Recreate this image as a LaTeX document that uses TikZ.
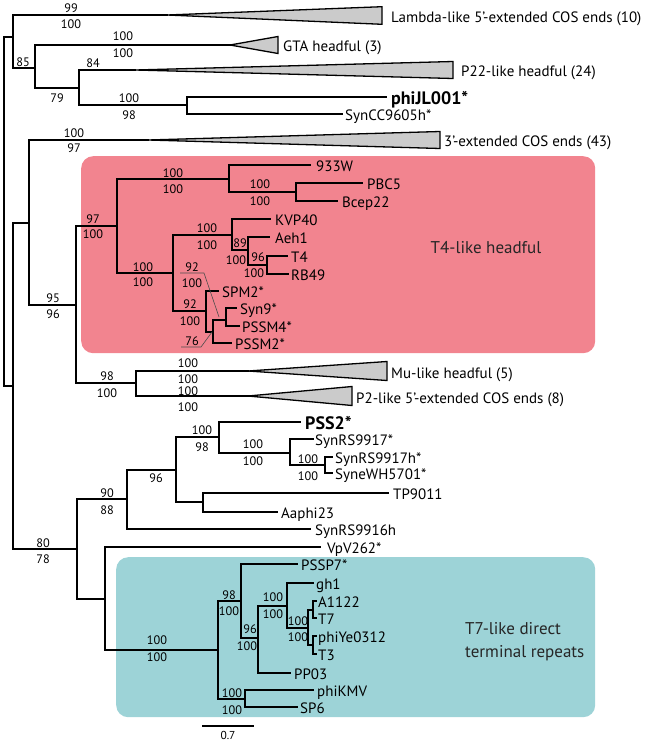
\documentclass[tikz,border=0pt]{standalone}
\usepackage{fontspec}
\setmainfont{PT Sans}
\definecolor{pinkbox}{HTML}{F2848F}
\definecolor{tealbox}{HTML}{9DD3D7}
\definecolor{trigray}{HTML}{CBCBCB}
\begin{document}
\begin{tikzpicture}[x=1pt,y=-1pt,
 br/.style={line width=1.9pt, line join=miter, line cap=rect},
 tri/.style={draw, line width=1.3pt, fill=trigray, line join=miter},
 leafl/.style={anchor=base west, inner sep=0pt, font=\fontsize{15}{16}\selectfont, yshift=-1pt},
 boldl/.style={anchor=base west, inner sep=0pt, font=\fontsize{18}{18}\selectfont\bfseries, yshift=-1.5pt},
 bsn/.style={inner sep=0pt, font=\fontsize{12.3}{12}\selectfont},
 boxl/.style={inner sep=0pt, font=\fontsize{17}{23}\selectfont, text=black!85},
 lead/.style={line width=0.6pt, draw=black!70},
 cbox/.style={rounded corners=12pt, draw=none}
]
\useasboundingbox (0,0) rectangle (650,744);

% clade boxes
\node[cbox, fill=pinkbox, minimum width=514pt, minimum height=197pt, anchor=north west] (t4box) at (81,156) {};
\node[cbox, fill=tealbox, minimum width=479pt, minimum height=160pt, anchor=north west] (t7box) at (116,557) {};
\node[boxl, anchor=center] (t4txt) at (486,248) {T4-like headful};
\node[boxl, anchor=west, align=left] (t7txt) at (465,642) {T7-like direct\\terminal repeats};

% internal nodes
\coordinate (root) at (4,211);
\coordinate (nTop) at (12.7,36.7);
\coordinate (n85) at (35,68);
\coordinate (n79) at (79,88);
\coordinate (nJL) at (187,105);
\coordinate (nB) at (12.7,386);
\coordinate (n3p) at (29,222.7);
\coordinate (n95) at (76,305);
\coordinate (n97) at (117,226);
\coordinate (nA) at (229,179);
\coordinate (nPBC) at (296,192);
\coordinate (nC) at (173,273);
\coordinate (nK) at (232,235);
\coordinate (nAeh) at (248,250);
\coordinate (nT4) at (267,265);
\coordinate (nCy) at (206,311);
\coordinate (nPS) at (213,332);
\coordinate (nSyn) at (226,320);
\coordinate (n98) at (136,383);
\coordinate (n80) at (77,549);
\coordinate (n90) at (127,499);
\coordinate (n96) at (176,470);
\coordinate (nP) at (219,437);
\coordinate (nRS) at (290,453);
\coordinate (nWH) at (325,465);
\coordinate (nTP) at (203,502);
\coordinate (nV) at (105,599);
\coordinate (nT7) at (218,650);
\coordinate (n98b) at (241,601);
\coordinate (n96b) at (258,638);
\coordinate (n100a) at (287,606);
\coordinate (n100b) at (308,628);
\coordinate (nA11) at (313,610);
\coordinate (nYe) at (313,645);
\coordinate (nKMV) at (245,699);

% triangle tips
\coordinate (lamT) at (167,15);
\coordinate (gtaT) at (230,45);
\coordinate (p22T) at (135,70);
\coordinate (cos3T) at (148,140);
\coordinate (muT) at (248,371);
\coordinate (p2T) at (248,396);

% leaf tips
\coordinate (phiJL) at (386,97);
\coordinate (syncc) at (342,114);
\coordinate (w933) at (310,165);
\coordinate (pbc5) at (362,183);
\coordinate (bcep) at (337,201);
\coordinate (kvp) at (270,219);
\coordinate (aeh) at (269,237);
\coordinate (t4) at (287,256);
\coordinate (rb49) at (288,274);
\coordinate (spm2) at (218,291);
\coordinate (syn9) at (236,308);
\coordinate (pssm4) at (239,326);
\coordinate (pssm2) at (231,343);
\coordinate (pss2) at (300,422);
\coordinate (rs9917) at (313,439);
\coordinate (rs9917h) at (332,457);
\coordinate (wh5701) at (332,473);
\coordinate (tp9011) at (388,493);
\coordinate (aaphi) at (277,512);
\coordinate (rs9916) at (310,529);
\coordinate (vpv) at (320,547);
\coordinate (pssp7) at (297,564);
\coordinate (gh1) at (313,583);
\coordinate (a1122) at (316,601);
\coordinate (t7) at (316,618);
\coordinate (phiye) at (316,636);
\coordinate (t3) at (316,654);
\coordinate (pp03) at (290,673);
\coordinate (kmv) at (313,690);
\coordinate (sp6) at (297,707);

% triangles
\draw[tri] (lamT) -- (382,6.7) -- (382,24.3) -- cycle;
\draw[tri] (gtaT) -- (278,36.5) -- (278,53.5) -- cycle;
\draw[tri] (p22T) -- (453,61.5) -- (453,78.5) -- cycle;
\draw[tri] (cos3T) -- (440,131.5) -- (440,148.5) -- cycle;
\draw[tri] (muT) -- (387,361.5) -- (387,380.5) -- cycle;
\draw[tri] (p2T) -- (352,386.5) -- (352,405.5) -- cycle;

% branches
\draw[br] (root) |- (nTop); \draw[br] (root) |- (nB);
\draw[br] (nTop) |- (lamT); \draw[br] (nTop) |- (n85);
\draw[br] (n85) |- (gtaT); \draw[br] (n85) |- (n79);
\draw[br] (n79) |- (p22T); \draw[br] (n79) |- (nJL);
\draw[br] (nJL) |- (phiJL); \draw[br] (nJL) |- (syncc);
\draw[br] (nB) |- (n3p); \draw[br] (nB) |- (n80);
\draw[br] (n3p) |- (cos3T); \draw[br] (n3p) |- (n95);
\draw[br] (n95) |- (n97); \draw[br] (n95) |- (n98);
\draw[br] (n97) |- (nA); \draw[br] (n97) |- (nC);
\draw[br] (nA) |- (w933); \draw[br] (nA) |- (nPBC);
\draw[br] (nPBC) |- (pbc5); \draw[br] (nPBC) |- (bcep);
\draw[br] (nC) |- (nK); \draw[br] (nC) |- (nCy);
\draw[br] (nK) |- (kvp); \draw[br] (nK) |- (nAeh);
\draw[br] (nAeh) |- (aeh); \draw[br] (nAeh) |- (nT4);
\draw[br] (nT4) |- (t4); \draw[br] (nT4) |- (rb49);
\draw[br] (nCy) |- (spm2); \draw[br] (nCy) |- (nPS);
\draw[br] (nPS) |- (nSyn); \draw[br] (nPS) |- (pssm2);
\draw[br] (nSyn) |- (syn9); \draw[br] (nSyn) |- (pssm4);
\draw[br] (n98) |- (muT); \draw[br] (n98) |- (p2T);
\draw[br] (n80) |- (n90); \draw[br] (n80) |- (nV);
\draw[br] (n90) |- (n96); \draw[br] (n90) |- (rs9916);
\draw[br] (n96) |- (nP); \draw[br] (n96) |- (nTP);
\draw[br] (nP) |- (pss2); \draw[br] (nP) |- (nRS);
\draw[br] (nRS) |- (rs9917); \draw[br] (nRS) |- (nWH);
\draw[br] (nWH) |- (rs9917h); \draw[br] (nWH) |- (wh5701);
\draw[br] (nTP) |- (tp9011); \draw[br] (nTP) |- (aaphi);
\draw[br] (nV) |- (vpv); \draw[br] (nV) |- (nT7);
\draw[br] (nT7) |- (n98b); \draw[br] (nT7) |- (nKMV);
\draw[br] (n98b) |- (pssp7); \draw[br] (n98b) |- (n96b);
\draw[br] (n96b) |- (n100a); \draw[br] (n96b) |- (pp03);
\draw[br] (n100a) |- (gh1); \draw[br] (n100a) |- (n100b);
\draw[br] (n100b) |- (nA11); \draw[br] (n100b) |- (nYe);
\draw[br] (nA11) |- (a1122); \draw[br] (nA11) |- (t7);
\draw[br] (nYe) |- (phiye); \draw[br] (nYe) |- (t3);
\draw[br] (nKMV) |- (kmv); \draw[br] (nKMV) |- (sp6);

% clade labels
\node[leafl] (lamL) at (391,21) {Lambda-like 5’-extended COS ends (10)};
\node[leafl] (gtaL) at (283,50) {GTA headful (3)};
\node[leafl] (p22L) at (461,75) {P22-like headful (24)};
\node[leafl] (cos3L) at (444,145) {3’-extended COS ends (43)};
\node[leafl] (muL) at (391,377) {Mu-like headful (5)};
\node[leafl] (p2L) at (356,402) {P2-like 5’-extended COS ends (8)};

% leaf labels
\node[boldl] (phiJLL) at (391,102.5) {phiJL001*};
\node[leafl] (synccL) at (345,119) {SynCC9605h*};
\node[leafl] (w933L) at (316,170) {933W};
\node[leafl] (pbc5L) at (367,188) {PBC5};
\node[leafl] (bcepL) at (342,206) {Bcep22};
\node[leafl] (kvpL) at (275,224) {KVP40};
\node[leafl] (aehL) at (275,242) {Aeh1};
\node[leafl] (t4L) at (291,261) {T4};
\node[leafl] (rb49L) at (291,279) {RB49};
\node[leafl] (spm2L) at (222,296) {SPM2*};
\node[leafl] (syn9L) at (240,313) {Syn9*};
\node[leafl] (pssm4L) at (242,331) {PSSM4*};
\node[leafl] (pssm2L) at (235,348) {PSSM2*};
\node[boldl] (pss2L) at (305,427.5) {PSS2*};
\node[leafl] (rs9917L) at (315,444) {SynRS9917*};
\node[leafl] (rs9917hL) at (335,462) {SynRS9917h*};
\node[leafl] (wh5701L) at (335,478) {SyneWH5701*};
\node[leafl] (tp9011L) at (393,498) {TP9011};
\node[leafl] (aaphiL) at (281,517) {Aaphi23};
\node[leafl] (rs9916L) at (315,534) {SynRS9916h};
\node[leafl] (vpvL) at (327,552) {VpV262*};
\node[leafl] (pssp7L) at (301,569) {PSSP7*};
\node[leafl] (gh1L) at (316,588) {gh1};
\node[leafl] (a1122L) at (318,606) {A1122};
\node[leafl] (t7L) at (318,623) {T7};
\node[leafl] (phiyeL) at (318,641) {phiYe0312};
\node[leafl] (t3L) at (318,659) {T3};
\node[leafl] (pp03L) at (294,678) {PP03};
\node[leafl] (kmvL) at (317,695) {phiKMV};
\node[leafl] (sp6L) at (300,712) {SP6};

% bootstrap values
\node[bsn] (b1) at (71,8) {99};
\node[bsn] (b2) at (71,24) {100};
\node[bsn] (b3) at (23,62) {85};
\node[bsn] (b4) at (123,36) {100};
\node[bsn] (b5) at (123,53) {100};
\node[bsn] (b6) at (93,63) {84};
\node[bsn] (b7) at (57,98) {79};
\node[bsn] (b8) at (129,98) {100};
\node[bsn] (b9) at (129,115) {98};
\node[bsn] (b10) at (74,133) {100};
\node[bsn] (b11) at (74,148) {97};
\node[bsn] (b12) at (53,298) {95};
\node[bsn] (b13) at (53,314) {96};
\node[bsn] (b14) at (93,219) {97};
\node[bsn] (b15) at (93,234) {100};
\node[bsn] (b16) at (173,173) {100};
\node[bsn] (b17) at (173,189) {100};
\node[bsn] (b18) at (260,184) {100};
\node[bsn] (b19) at (260,201) {100};
\node[bsn] (b20) at (143,267) {100};
\node[bsn] (b21) at (143,282) {100};
\node[bsn] (b22) at (207,228) {100};
\node[bsn] (b23) at (207,245) {100};
\node[bsn] (b24) at (240,243) {89};
\node[bsn] (b25) at (236,260) {100};
\node[bsn] (b26) at (258,257) {96};
\node[bsn] (b27) at (254,273) {100};
\node[bsn] (b28) at (192,267) {92};
\node[bsn] (b29) at (192,283) {100};
\node[bsn] (b30) at (190,304) {92};
\node[bsn] (b31) at (190,321) {100};
\node[bsn] (b32) at (192,341) {76};
\node[bsn] (b33) at (107,376) {98};
\node[bsn] (b34) at (107,393) {100};
\node[bsn] (b35) at (188,363) {100};
\node[bsn] (b36) at (188,379) {100};
\node[bsn] (b37) at (188,391) {100};
\node[bsn] (b38) at (188,407) {100};
\node[bsn] (b39) at (202,430) {100};
\node[bsn] (b40) at (202,447) {98};
\node[bsn] (b41) at (253,444) {100};
\node[bsn] (b42) at (253,461) {100};
\node[bsn] (b43) at (308,459) {100};
\node[bsn] (b44) at (308,476) {100};
\node[bsn] (b45) at (156,478) {96};
\node[bsn] (b46) at (107,493) {90};
\node[bsn] (b47) at (107,510) {88};
\node[bsn] (b48) at (43,543) {80};
\node[bsn] (b49) at (43,559) {78};
\node[bsn] (b50) at (157,640) {100};
\node[bsn] (b51) at (157,657) {100};
\node[bsn] (b52) at (229,595) {98};
\node[bsn] (b53) at (229,611) {100};
\node[bsn] (b54) at (250,629) {96};
\node[bsn] (b55) at (247,646) {100};
\node[bsn] (b56) at (273,597) {100};
\node[bsn] (b57) at (273,614) {100};
\node[bsn] (b58) at (298,621) {100};
\node[bsn] (b59) at (298,637) {100};
\node[bsn] (b60) at (232,693) {100};
\node[bsn] (b61) at (232,710) {100};

% leader lines
\coordinate (ld1a) at (180,273); \coordinate (ld1b) at (204,273); \coordinate (ld1c) at (219,317);
\draw[lead] (ld1a) -- (ld1b) -- (ld1c);
\coordinate (ld2a) at (181,347); \coordinate (ld2b) at (201,347); \coordinate (ld2c) at (212,332);
\draw[lead] (ld2a) -- (ld2b) -- (ld2c);

% scale bar
\coordinate (sb1) at (202,726); \coordinate (sb2) at (254,726);
\draw[line width=1.4pt] (sb1) -- (sb2);
\node[bsn, font=\fontsize{11.5}{12}\selectfont] (sbl) at (228,735.5) {0.7};
\end{tikzpicture}
\end{document}
